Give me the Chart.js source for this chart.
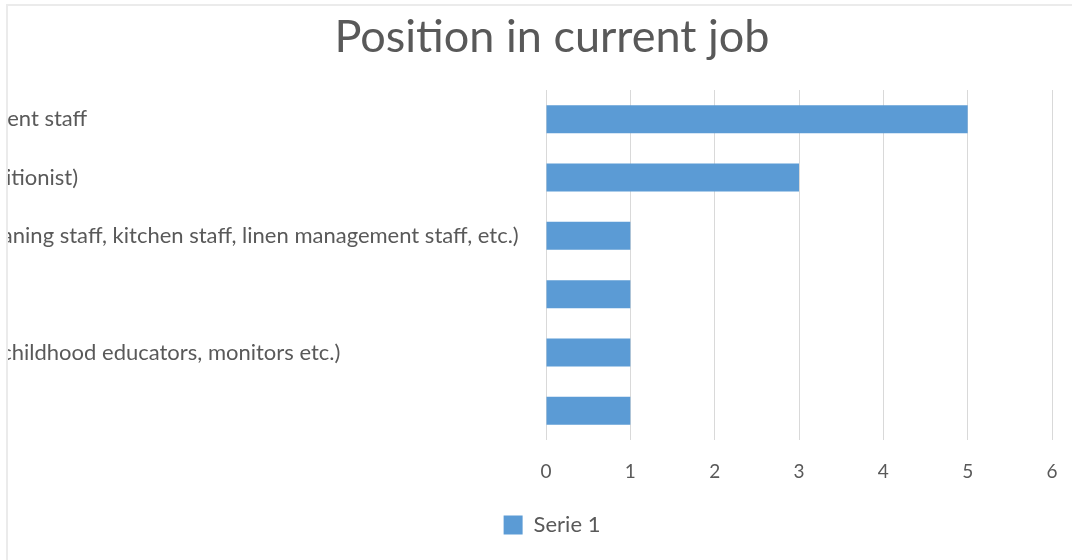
<!DOCTYPE html>
<html>
<head>
<meta charset="utf-8">
<title>Position in current job</title>
<script src="https://cdn.jsdelivr.net/npm/chart.js@4/dist/chart.umd.min.js"></script>
<style>
  html, body { margin: 0; padding: 0; background: #ffffff; overflow: hidden; }
  body { width: 1072px; height: 560px; position: relative; }
  /* chart frame: only its top and left edges fall inside the window */
  #frame {
    position: absolute; left: 6px; top: 4px; width: 1100px; height: 600px;
    border-left: 2px solid #ebebeb; border-top: 2px solid #ebebeb;
    overflow: hidden; background: #ffffff;
  }
  #chart { position: absolute; left: 0; top: 0; }
</style>
</head>
<body>
<div id="frame"><canvas id="chart"></canvas></div>
<script>
// ---- data ----
const chartTitle = 'Position in current job';
const seriesName = 'Serie 1';
const categories = [
  'Administrative and management staff',
  'Healthcare staff (nurses, nutritionist)',
  'Hotel and domestic staff (cleaning staff, kitchen staff, linen management staff, etc.)',
  'Director',
  'Educators (instructors, early childhood educators, monitors etc.)',
  'Other'
];
const counts = [5, 3, 1, 1, 1, 1];
const valueTicks = [0, 1, 2, 3, 4, 5, 6];

// ---- geometry ----
const CANVAS_W = 1064;
const CANVAS_H = 540;
const PAD_LEFT = 44;
const PAD_RIGHT = 20;
const AXIS_W = 494;
const LABEL_OVERHANG = 281;   // long category labels start past the frame's left edge

const canvas = document.getElementById('chart');
canvas.width = CANVAS_W;
canvas.height = CANVAS_H;
canvas.style.width = CANVAS_W + 'px';
canvas.style.height = CANVAS_H + 'px';

const FONT = 'Lato, "Open Sans", "DejaVu Sans", sans-serif';
const GREY = '#595959';

// category labels are left-aligned at a start point outside the frame
const labelStart = {
  id: 'labelStart',
  afterLayout(chart) {
    chart.scales.y.left = -LABEL_OVERHANG;
  }
};

new Chart(canvas, {
  type: 'bar',
  data: {
    labels: categories,
    datasets: [{
      label: seriesName,
      data: counts,
      backgroundColor: '#5b9bd5',
      borderWidth: 0,
      barPercentage: 0.48,
      categoryPercentage: 1.0
    }]
  },
  plugins: [labelStart],
  options: {
    indexAxis: 'y',
    responsive: false,
    animation: false,
    devicePixelRatio: 1,
    layout: { padding: { left: PAD_LEFT, right: PAD_RIGHT, top: 0, bottom: 0 } },
    plugins: {
      title: {
        display: true,
        text: chartTitle,
        color: GREY,
        font: { family: FONT, size: 45, weight: '400' },
        padding: { top: 4, bottom: 26 }
      },
      legend: {
        display: true,
        position: 'bottom',
        labels: {
          color: GREY,
          font: { family: FONT, size: 22 },
          boxWidth: 19,
          boxHeight: 19,
          padding: 10
        }
      },
      tooltip: { enabled: false }
    },
    scales: {
      x: {
        type: 'linear',
        min: valueTicks[0],
        max: valueTicks[valueTicks.length - 1],
        afterBuildTicks: (scale) => { scale.ticks = valueTicks.map(v => ({ value: v })); },
        afterFit: (scale) => { scale.height = 64; },
        grid: {
          color: '#d9d9d9',
          lineWidth: 1,
          drawTicks: true,
          tickLength: 20,
          tickColor: 'rgba(0,0,0,0)'
        },
        border: { display: false },
        ticks: { color: GREY, font: { family: FONT, size: 19 }, padding: 0.6 }
      },
      y: {
        afterFit: (scale) => { scale.width = AXIS_W; },
        grid: { display: false },
        border: { display: false },
        ticks: {
          color: GREY,
          font: { family: FONT, size: 22 },
          crossAlign: 'far',
          autoSkip: false
        }
      }
    }
  }
});
</script>
</body>
</html>
